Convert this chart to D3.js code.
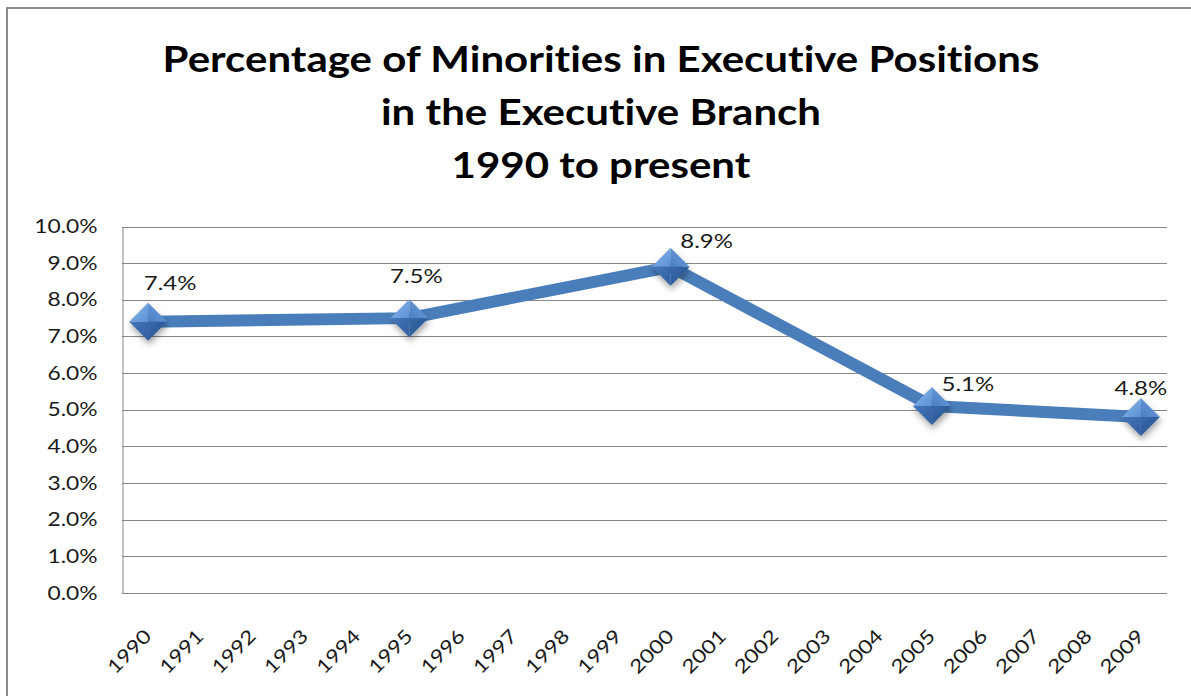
<!DOCTYPE html>
<html>
<head>
<meta charset="utf-8">
<script src="https://cdn.jsdelivr.net/npm/d3@7"></script>
<style>
  html, body { margin: 0; padding: 0; background: #fff; }
  svg { display: block; }
  text { font-variant-ligatures: none; font-feature-settings: "liga" 0; }
</style>
</head>
<body>
<svg id="chart" width="1191" height="696"></svg>
<script>
// ---- data ----
const titleLines = ["Percentage of Minorities in Executive Positions", "in the Executive Branch", "1990 to present"];
const categories = ["1990","1991","1992","1993","1994","1995","1996","1997","1998","1999",
                    "2000","2001","2002","2003","2004","2005","2006","2007","2008","2009"];
const values = [0.074, null, null, null, null, 0.075, null, null, null, null,
                0.089, null, null, null, null, 0.051, null, null, null, 0.048];
const yTicks = [0, 0.01, 0.02, 0.03, 0.04, 0.05, 0.06, 0.07, 0.08, 0.09, 0.10];
// label placement nudges (styling), per labelled point
const labelDx = [22, 7, 36, 36, 0];
const labelDy = [-32, -35, -19, -15, -22];

// ---- layout ----
const svg = d3.select("#chart");
const plot = { left: 122, right: 1167, top: 226.5, bottom: 593 };
const fontFam = "Lato, 'Open Sans', sans-serif";
const stretch = 1.2;     // horizontal stretch of small text
const tStretch = 1.136;  // horizontal stretch of title

// chart border (extends past right/bottom edges)
svg.append("rect")
  .attr("x", 7).attr("y", 8).attr("width", 1200).attr("height", 720)
  .attr("fill", "#fff").attr("stroke", "#8a8a8a").attr("stroke-width", 2);

// title
const title = svg.append("g")
  .attr("font-family", fontFam)
  .attr("font-weight", "bold")
  .attr("font-size", 37)
  .attr("fill", "#000");
titleLines.forEach((t, i) => {
  title.append("text")
    .attr("text-anchor", "middle")
    .attr("transform", `translate(601,${72 + i * 53}) scale(${tStretch},1)`)
    .text(t);
});

const x = d3.scalePoint().domain(categories).range([plot.left, plot.right]).padding(0.5);
const y = d3.scaleLinear().domain([0, 0.10]).range([plot.bottom, plot.top]);

// gridlines
svg.append("g")
  .selectAll("line")
  .data(yTicks.filter(d => d > 0))
  .join("line")
  .attr("x1", plot.left).attr("x2", plot.right)
  .attr("y1", d => Math.round(y(d)) + 0.5).attr("y2", d => Math.round(y(d)) + 0.5)
  .attr("stroke", "#868686").attr("stroke-width", 1);

// y axis
const yAxis = d3.axisLeft(y).tickValues(yTicks).tickFormat(d3.format(".1%")).tickSize(0).tickPadding(25);
const gy = svg.append("g").attr("transform", `translate(${plot.left + 0.5},0)`).call(yAxis);
gy.select(".domain").attr("stroke", "#868686");
gy.selectAll("text")
  .attr("font-family", fontFam).attr("font-size", 19).attr("fill", "#1a1a1a")
  .attr("x", 0)
  .attr("transform", `translate(-25,0) scale(${stretch},1)`);

// x axis
const xAxis = d3.axisBottom(x).tickSize(0).tickPadding(0);
const gx = svg.append("g").attr("transform", `translate(0,${plot.bottom + 0.5})`).call(xAxis);
gx.select(".domain").attr("stroke", "#868686").attr("d", `M${plot.left},0H${plot.right}`);
gx.selectAll("text")
  .attr("font-family", fontFam).attr("font-size", 19).attr("fill", "#1a1a1a")
  .attr("text-anchor", "end")
  .attr("dy", null).attr("y", null)
  .attr("transform", `translate(4,44) rotate(-45) scale(${stretch},1)`);

// data series
const pts = categories.map((c, i) => ({ c, v: values[i] })).filter(d => d.v !== null);

// defs
const defs = svg.append("defs");
const mkGrad = (id, c1, c2, x1, y1, x2, y2) => {
  const g = defs.append("linearGradient").attr("id", id)
    .attr("x1", x1).attr("y1", y1).attr("x2", x2).attr("y2", y2);
  g.append("stop").attr("offset", "0%").attr("stop-color", c1);
  g.append("stop").attr("offset", "100%").attr("stop-color", c2);
};
mkGrad("gTL", "#8ab9ee", "#5b90d2", "0", "0", "1", "1");
mkGrad("gTR", "#6fa3e2", "#4a7fc2", "1", "0", "0", "1");
mkGrad("gBL", "#4577bb", "#2f5e9e", "0", "0", "1", "1");
mkGrad("gBR", "#3a6aab", "#234f8a", "0", "0", "1", "1");
const shadow = defs.append("filter").attr("id", "shadow")
  .attr("x", "-50%").attr("y", "-50%").attr("width", "200%").attr("height", "200%");
shadow.append("feDropShadow").attr("dx", 1).attr("dy", 4).attr("stdDeviation", 3)
  .attr("flood-color", "#000").attr("flood-opacity", 0.35);

const line = d3.line().x(d => x(d.c)).y(d => y(d.v));
svg.append("path")
  .datum(pts)
  .attr("d", line)
  .attr("fill", "none")
  .attr("stroke", "#4a7ebb")
  .attr("stroke-width", 12)
  .attr("stroke-linejoin", "round");

// markers (diamonds with facets)
const r = 19;
const mk = svg.append("g").selectAll("g").data(pts).join("g")
  .attr("transform", d => `translate(${x(d.c)},${y(d.v)})`)
  .attr("filter", "url(#shadow)");
mk.append("path").attr("d", `M${-r},0L0,${-r}L0,0Z`).attr("fill", "url(#gTL)");
mk.append("path").attr("d", `M0,${-r}L${r},0L0,0Z`).attr("fill", "url(#gTR)");
mk.append("path").attr("d", `M${-r},0L0,${r}L0,0Z`).attr("fill", "url(#gBL)");
mk.append("path").attr("d", `M0,${r}L${r},0L0,0Z`).attr("fill", "url(#gBR)");

// data labels
svg.append("g").selectAll("text").data(pts).join("text")
  .attr("transform", (d, i) => `translate(${x(d.c) + labelDx[i]},${y(d.v) + labelDy[i]}) scale(${stretch},1)`)
  .attr("text-anchor", "middle")
  .attr("font-family", fontFam).attr("font-size", 20).attr("fill", "#1a1a1a")
  .text(d => d3.format(".1%")(d.v));
</script>
</body>
</html>
